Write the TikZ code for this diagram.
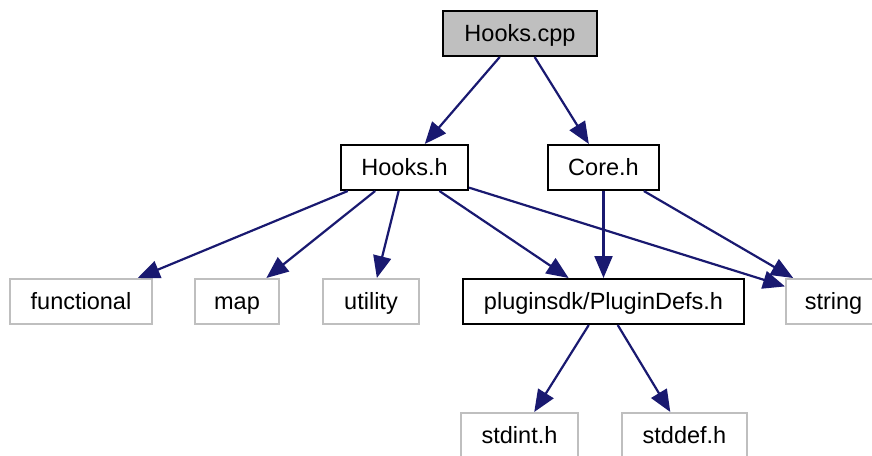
\documentclass[tikz,border=0pt]{standalone}
\usepackage{fontspec}
\setmainfont{Liberation Sans}
\usetikzlibrary{arrows.meta}
\definecolor{edgeblue}{HTML}{191970}
\definecolor{boxgray}{HTML}{BFBFBF}
\begin{document}
\begin{tikzpicture}[x=1pt,y=-1pt,
  file/.style={draw=black,line width=2pt,minimum height=45pt,inner sep=0pt,
    font=\fontsize{23.5}{26}\selectfont,text height=16pt,text depth=0pt},
  mainfile/.style={file,fill=boxgray},
  extfile/.style={file,draw=boxgray},
  dep/.style={draw=edgeblue,line width=2.2pt,-{Triangle[length=22pt,width=18pt]}}]
\useasboundingbox (0,0) rectangle (872,455);
\node[mainfile,minimum width=154pt] (cpp) at (520,33.5) {Hooks.cpp};
\node[file,minimum width=127pt] (hooksh) at (404.5,167.5) {Hooks.h};
\node[file,minimum width=111pt] (coreh) at (603.5,167.5) {Core.h};
\node[extfile,minimum width=142pt] (functional) at (81,301.5) {functional};
\node[extfile,minimum width=84pt] (map) at (237,301.5) {map};
\node[extfile,minimum width=96pt] (utility) at (371,301.5) {utility};
\node[file,minimum width=281pt] (defs) at (603.5,301.5) {pluginsdk/PluginDefs.h};
\node[extfile,minimum width=95pt] (string) at (833.5,301.5) {string};
\node[extfile,minimum width=117pt] (stdint) at (519.5,435.5) {stdint.h};
\node[extfile,minimum width=125pt] (stddef) at (684.5,435.5) {stddef.h};
\draw[dep] (cpp) -- (hooksh);
\draw[dep] (cpp) -- (coreh);
\draw[dep] (hooksh) -- (functional);
\draw[dep] (hooksh) -- (map);
\draw[dep] (hooksh) -- (utility);
\draw[dep] (hooksh) -- (defs);
\draw[dep] (hooksh) -- (string);
\draw[dep] (coreh) -- (defs);
\draw[dep] (coreh) -- (string);
\draw[dep] (defs) -- (stdint);
\draw[dep] (defs) -- (stddef);
\end{tikzpicture}
\end{document}
